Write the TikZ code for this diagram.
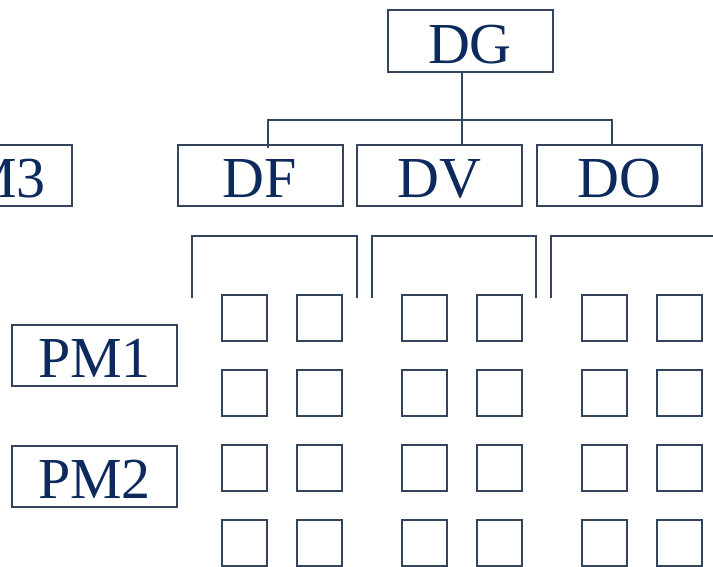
\documentclass[tikz,border=0pt]{standalone}
\usepackage{fontspec}
\setmainfont{Liberation Serif}
\usetikzlibrary{calc}
\definecolor{inknavy}{RGB}{12,42,92}
\definecolor{rulegray}{RGB}{52,68,92}
\begin{document}
\begin{tikzpicture}[x=1pt,y=-1pt,
  lbox/.style={draw=rulegray, line width=2pt, text=inknavy,
    font=\fontsize{58}{60}\selectfont, minimum width=165pt, minimum height=61pt,
    inner sep=0pt, text height=44pt, text depth=0pt},
  cell/.style={draw=rulegray, line width=2pt, minimum width=45pt,
    minimum height=46pt, inner sep=0pt},
  link/.style={draw=rulegray, line width=2pt}]
\useasboundingbox (0,0) rectangle (713,566);
\clip (0,0) rectangle (713,566);
\fill[white] (0,0) rectangle (713,566);

% directorate and departments
\node[lbox, minimum height=62pt] (dg) at (470,41) {DG};
\node[lbox] (df)  at (260,175.5) {DF};
\node[lbox] (dv)  at (439.5,175.5) {DV};
\node[lbox] (ndo) at (619.5,175.5) {DO};

% project managers (the first one runs off the left edge)
\node[lbox] (pm3) at (-10.5,175.5) {PM3};
\node[lbox] (pm1) at (94.5,355.5) {PM1};
\node[lbox] (pm2) at (94.5,476.5) {PM2};

% tree connectors
\coordinate (busL) at (268,120);
\coordinate (busC) at (462,120);
\coordinate (busR) at (612,120);
\draw[link] (busC |- dg.south) -- (busC |- dv.north);
\draw[link] ($(busL |- df.north)+(0,4)$) -- (busL) -- (busR) -- (busR |- ndo.north);

% brackets over the staff grids
\foreach \l/\r in {192/357, 372/536, 551/730}
  \draw[link] (\l,298) -- (\l,236) -- (\r,236) -- (\r,298);

% staff cells
\foreach \cx [count=\i] in {244.5,319.5,424,499,604,679.5}
  \foreach \cy [count=\j] in {318,393,468,543}
    \node[cell] (c\i\j) at (\cx,\cy) {};
\end{tikzpicture}
\end{document}
